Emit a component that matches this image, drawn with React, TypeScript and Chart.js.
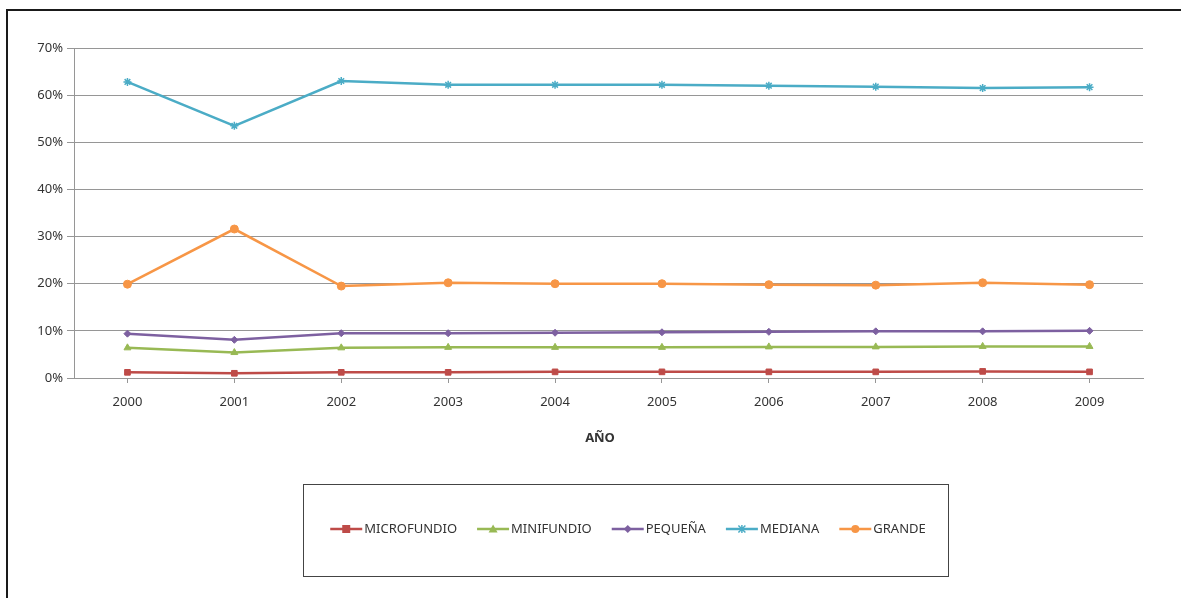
import React, { useEffect, useRef } from "react";
import { Chart, registerables } from "chart.js";

Chart.register(...registerables);

const years = ["2000", "2001", "2002", "2003", "2004", "2005", "2006", "2007", "2008", "2009"];
const microfundio = [1.2, 1.0, 1.2, 1.2, 1.3, 1.3, 1.3, 1.3, 1.4, 1.3];
const minifundio = [6.4, 5.4, 6.4, 6.5, 6.5, 6.5, 6.6, 6.6, 6.7, 6.7];
const pequena = [9.4, 8.1, 9.5, 9.5, 9.6, 9.7, 9.8, 9.9, 9.9, 10.0];
const mediana = [62.8, 53.5, 63.0, 62.2, 62.2, 62.2, 62.0, 61.8, 61.5, 61.7];
const grande = [19.9, 31.6, 19.5, 20.2, 20.0, 20.0, 19.8, 19.7, 20.2, 19.8];
const yTicks = [0, 10, 20, 30, 40, 50, 60, 70];

const seriesNames = ["MICROFUNDIO", "MINIFUNDIO", "PEQUEÑA", "MEDIANA", "GRANDE"];
const seriesColors = ["#BE4B48", "#98B954", "#7D60A0", "#4BACC6", "#F79646"];
const seriesMarkers = ["rect", "triangle", "rectRot", "star", "circle"];
const seriesData = [microfundio, minifundio, pequena, mediana, grande];

const FONT = "'Noto Sans', 'Open Sans', sans-serif";

function drawMarker(ctx: CanvasRenderingContext2D, style: string, x: number, y: number, color: string) {
  ctx.save();
  ctx.fillStyle = color;
  ctx.strokeStyle = color;
  ctx.lineWidth = 1.5;
  ctx.beginPath();
  if (style === "rect") {
    ctx.rect(x - 4, y - 4, 8, 8);
    ctx.fill();
  } else if (style === "triangle") {
    ctx.moveTo(x, y - 4.5);
    ctx.lineTo(x + 4.5, y + 3.5);
    ctx.lineTo(x - 4.5, y + 3.5);
    ctx.closePath();
    ctx.fill();
  } else if (style === "rectRot") {
    ctx.moveTo(x, y - 4);
    ctx.lineTo(x + 4, y);
    ctx.lineTo(x, y + 4);
    ctx.lineTo(x - 4, y);
    ctx.closePath();
    ctx.fill();
  } else if (style === "star") {
    ctx.moveTo(x - 3.5, y - 3.5);
    ctx.lineTo(x + 3.5, y + 3.5);
    ctx.moveTo(x + 3.5, y - 3.5);
    ctx.lineTo(x - 3.5, y + 3.5);
    ctx.moveTo(x, y - 4);
    ctx.lineTo(x, y + 4);
    ctx.stroke();
  } else {
    ctx.arc(x, y, 4, 0, Math.PI * 2);
    ctx.fill();
  }
  ctx.restore();
}

const extrasPlugin = {
  id: "extras",
  afterDraw(chart: any) {
    const ctx: CanvasRenderingContext2D = chart.ctx;
    ctx.save();
    // axis title
    ctx.fillStyle = "#333333";
    ctx.font = `bold 13px ${FONT}`;
    ctx.textAlign = "center";
    ctx.textBaseline = "middle";
    ctx.fillText("AÑO", 600, 438);

    // legend box
    ctx.strokeStyle = "#444444";
    ctx.lineWidth = 1;
    ctx.strokeRect(303.5, 484.5, 645, 92);

    // legend items
    ctx.font = `13px ${FONT}`;
    const lineLen = 32;
    const gapText = 2;
    const gapItem = 20;
    const widths = seriesNames.map((n) => ctx.measureText(n).width);
    const total = widths.reduce((a, w) => a + lineLen + gapText + w, 0) + gapItem * (seriesNames.length - 1);
    let x = 628 - total / 2;
    const y = 529;
    ctx.textAlign = "left";
    for (let i = 0; i < seriesNames.length; i++) {
      ctx.strokeStyle = seriesColors[i];
      ctx.lineWidth = 2.5;
      ctx.beginPath();
      ctx.moveTo(x, y);
      ctx.lineTo(x + lineLen, y);
      ctx.stroke();
      drawMarker(ctx, seriesMarkers[i], x + lineLen / 2, y, seriesColors[i]);
      ctx.fillStyle = "#333333";
      ctx.fillText(seriesNames[i], x + lineLen + gapText, y + 0.5);
      x += lineLen + gapText + widths[i] + gapItem;
    }
    ctx.restore();
  },
};

export default function App() {
  const canvasRef = useRef<HTMLCanvasElement | null>(null);

  useEffect(() => {
    document.documentElement.style.overflow = "hidden";
    const canvas = canvasRef.current;
    if (!canvas) return;
    const chart = new Chart(canvas, {
      type: "line",
      data: {
        labels: years,
        datasets: seriesNames.map((name, i) => ({
          label: name,
          data: seriesData[i],
          borderColor: seriesColors[i],
          backgroundColor: seriesColors[i],
          pointBackgroundColor: seriesColors[i],
          pointBorderColor: seriesColors[i],
          pointStyle: seriesMarkers[i] as any,
          pointRadius: seriesMarkers[i] === "rectRot" ? 3.5 : 4,
          pointBorderWidth: seriesMarkers[i] === "star" ? 1.5 : 1,
          borderWidth: 2.5,
          tension: 0,
          fill: false,
        })),
      },
      options: {
        responsive: false,
        animation: false,
        layout: { padding: { top: 48, right: 38, left: 0, bottom: 0 } },
        plugins: {
          legend: { display: false },
          tooltip: { enabled: false },
          title: { display: false },
        },
        scales: {
          x: {
            type: "category",
            offset: true,
            grid: {
              display: true,
              drawOnChartArea: false,
              drawTicks: true,
              tickLength: 5,
              color: "#969696",
              offset: false,
            },
            border: { display: true, color: "#969696", width: 1 },
            ticks: {
              color: "#333333",
              font: { family: FONT, size: 13 },
              padding: 11,
              maxRotation: 0,
              autoSkip: false,
            },
            afterFit(scale: any) {
              scale.height = 220;
            },
          },
          y: {
            min: 0,
            max: 70,
            afterBuildTicks(scale: any) {
              scale.ticks = yTicks.map((v) => ({ value: v }));
            },
            grid: {
              color: "#969696",
              lineWidth: 1,
              tickLength: 7,
            },
            border: { display: true, color: "#969696", width: 1 },
            ticks: {
              color: "#333333",
              font: { family: FONT, size: 13 },
              padding: 4,
              callback: (v: any) => `${v}%`,
            },
            afterFit(scale: any) {
              scale.width = 74;
            },
          },
        },
      },
      plugins: [extrasPlugin],
    });
    return () => chart.destroy();
  }, []);

  return (
    <div>
      <div
        style={{
          position: "absolute",
          left: 6,
          top: 9,
          width: 1400,
          height: 700,
          border: "2px solid #1a1a1a",
          borderRight: "none",
          boxSizing: "border-box",
        }}
      />
      <canvas
        ref={canvasRef}
        width={1181}
        height={598}
        style={{ position: "absolute", left: 0, top: 0, width: 1181, height: 598 }}
      />
    </div>
  );
}
